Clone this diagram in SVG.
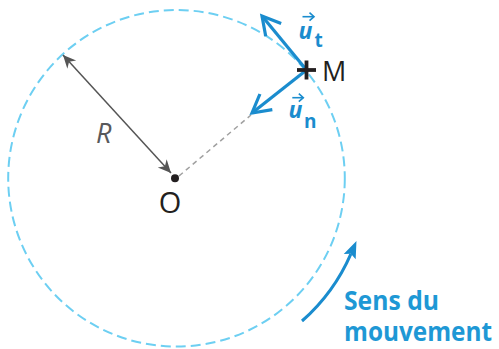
<svg xmlns="http://www.w3.org/2000/svg" width="499" height="349" viewBox="0 0 499 349">
<style>
.circ{fill:none;stroke:#6dcff2;stroke-width:2;stroke-dasharray:10 5}
.vec{fill:none;stroke:#1a8cce;stroke-width:3.2}
.lbl{font-family:"Open Sans","DejaVu Sans",sans-serif;fill:#231f20}
.blue{font-family:"Open Sans","DejaVu Sans",sans-serif;fill:#1a8cce;font-weight:700}
.sens{font-family:"Open Sans","DejaVu Sans",sans-serif;fill:#1e98d5;font-weight:700;font-size:27px}
</style>
<defs>
<marker id="openhead" markerUnits="userSpaceOnUse" markerWidth="40" markerHeight="40" viewBox="-25 -20 40 40" refX="0" refY="0" orient="auto" overflow="visible">
<path d="M-18,-10 L0,0 L-18,10" fill="none" stroke="#1a8cce" stroke-width="3.2"/>
</marker>
<marker id="smallhead" markerUnits="userSpaceOnUse" markerWidth="12" markerHeight="12" viewBox="-8 -6 12 12" refX="0" refY="0" orient="auto" overflow="visible">
<path d="M-4.5,-4 L0,0 L-4.5,4" fill="none" stroke="#1a8cce" stroke-width="1.6"/>
</marker>
<marker id="grayhead" markerUnits="userSpaceOnUse" markerWidth="20" markerHeight="20" viewBox="-16 -10 20 20" refX="0" refY="0" orient="auto-start-reverse" overflow="visible">
<path d="M0,0 L-13,-6 L-9,0 L-13,6 Z" fill="#555"/>
</marker>
<marker id="bluefill" markerUnits="userSpaceOnUse" markerWidth="24" markerHeight="24" viewBox="-20 -12 24 24" refX="-14" refY="0" orient="auto" overflow="visible">
<path d="M0,0 L-17,-6.5 L-14,0 L-17,6.5 Z" fill="#1a8cce"/>
</marker>
</defs>

<circle class="circ" cx="176.5" cy="178.3" r="168.3"/>

<g id="connectors">
<line x1="179" y1="176" x2="251" y2="115" stroke="#a0a0a0" stroke-width="1.5" stroke-dasharray="5 4"/>
<line x1="63" y1="55" x2="171" y2="173" stroke="#555" stroke-width="1.5" marker-start="url(#grayhead)" marker-end="url(#grayhead)"/>
<line class="vec" x1="306.5" y1="70" x2="262" y2="16" marker-end="url(#openhead)"/>
<line class="vec" x1="306.5" y1="70" x2="252" y2="113" marker-end="url(#openhead)"/>
<path d="M302,321 A190 190 0 0 0 350.9 253.8" fill="none" stroke="#1a8cce" stroke-width="3" marker-end="url(#bluefill)"/>
</g>

<g id="node-O">
<circle cx="175" cy="178.3" r="4" fill="#231f20"/>
<text class="lbl" x="170" y="212.5" font-size="29" text-anchor="middle">O</text>
</g>

<g id="label-R">
<text class="lbl" x="96" y="142.7" font-size="27" font-style="italic" style="fill:#58595b">R</text>
</g>

<g id="node-M">
<line x1="297" y1="70" x2="316" y2="70" stroke="#231f20" stroke-width="3.8"/>
<line x1="306.5" y1="60.5" x2="306.5" y2="79.5" stroke="#231f20" stroke-width="3.8"/>
<text class="lbl" x="322" y="81" font-size="27">M</text>
</g>

<g id="label-ut">
<line x1="302.5" y1="16.7" x2="314" y2="16.7" stroke="#1a8cce" stroke-width="1.6" marker-end="url(#smallhead)"/>
<text class="blue" x="298.5" y="39.3" font-size="23" font-style="italic">u</text>
<text class="blue" x="314.5" y="46.5" font-size="19">t</text>
</g>

<g id="label-un">
<line x1="292.3" y1="97.7" x2="303.3" y2="97.7" stroke="#1a8cce" stroke-width="1.6" marker-end="url(#smallhead)"/>
<text class="blue" x="288.5" y="118.3" font-size="23" font-style="italic">u</text>
<text class="blue" x="304" y="128" font-size="19">n</text>
</g>

<g id="label-sens">
<text class="sens" x="344" y="309.5" textLength="95" lengthAdjust="spacingAndGlyphs">Sens du</text>
<text class="sens" x="344" y="341" textLength="148" lengthAdjust="spacingAndGlyphs">mouvement</text>
</g>
</svg>
